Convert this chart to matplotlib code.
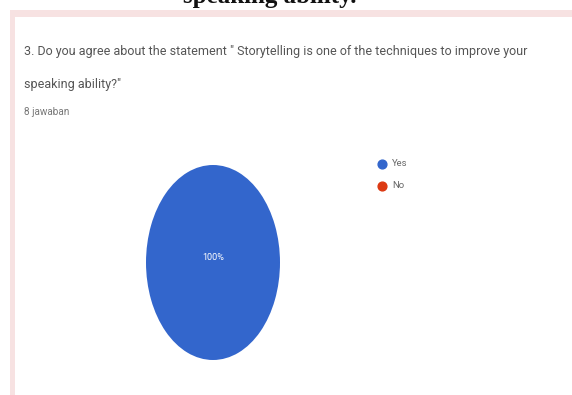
import matplotlib
matplotlib.use("Agg")
import matplotlib.pyplot as plt
from matplotlib.patches import Rectangle

# survey answers
labels = ["Yes", "No"]
shares = [100, 0]
colors = ["#3366cc", "#dc3912"]

question_lines = [
    '3. Do you agree about the statement " Storytelling is one of the techniques to improve your',
    'speaking ability?"',
]
answers_note = "8 jawaban"

W, H = 572, 395
fig = plt.figure(figsize=(W / 100, H / 100), dpi=100)
fig.patch.set_facecolor("white")

# page layer in pixel coordinates
page = fig.add_axes([0, 0, 1, 1])
page.set_xlim(0, W)
page.set_ylim(H, 0)
page.axis("off")

page.add_patch(Rectangle((10, 10), W - 10, 7, color="#f7e2e2", lw=0))
page.add_patch(Rectangle((10, 10), 5, H - 10, color="#f7e2e2", lw=0))

page.text(270, 3, "speaking ability.", ha="center", va="baseline",
          family="Liberation Serif", weight="bold", fontsize=18, color="#111111")
for i, line in enumerate(question_lines):
    page.text(24, 55 + i * 33, line, ha="left", va="baseline", family="Roboto",
              fontsize=9.0, color="#555555")
page.text(24, 115, answers_note, ha="left", va="baseline", family="Roboto",
          fontsize=7.2, color="#777777")

# pie stretched vertically
pie_ax = fig.add_axes([146 / W, 1 - 360 / H, 134 / W, 195 / H])
pie_ax.pie(shares, colors=colors, startangle=90, counterclock=False)
pie_ax.set_aspect("auto")
pie_ax.set_xlim(-1, 1)
pie_ax.set_ylim(-1, 1)
pie_ax.text(0, 0.05, f"{shares[0]}%", ha="center", va="center", color="white",
            family="Roboto", fontsize=6.5)

# legend
for i, (lab, col) in enumerate(zip(labels, colors)):
    y = 164 + i * 22
    page.scatter([382], [y], s=40, color=col, zorder=3)
    page.text(392, y, lab, va="center", ha="left", family="Roboto",
              fontsize=6.8, color="#666666")

fig.savefig("out.png", dpi=100)
